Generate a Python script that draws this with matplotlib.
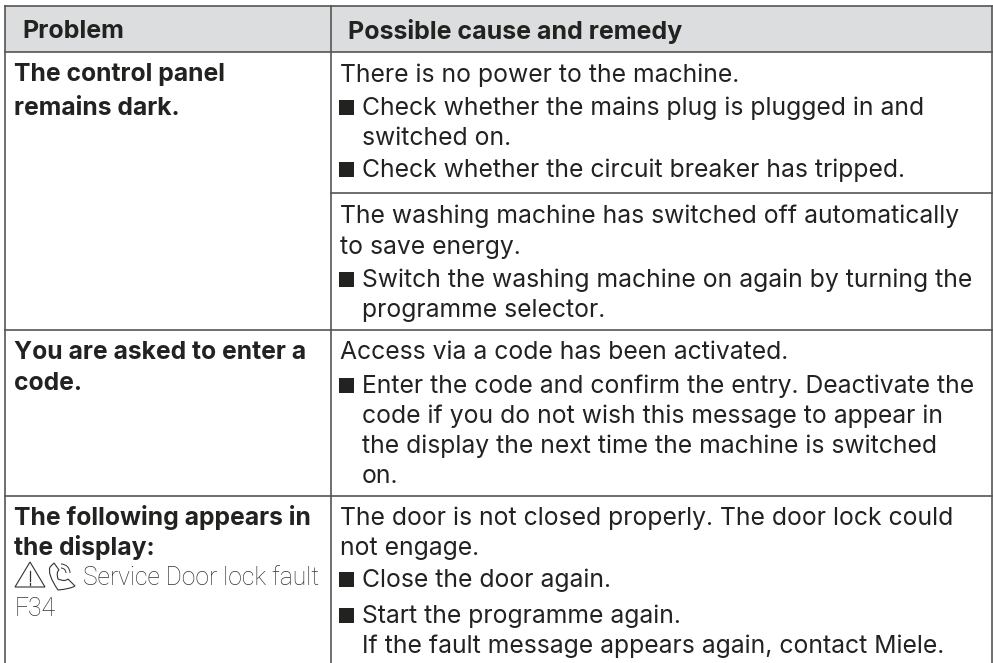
import matplotlib
matplotlib.use("Agg")
import matplotlib.pyplot as plt
from matplotlib.patches import Rectangle, Polygon, Arc, PathPatch
from matplotlib.path import Path

W = 993
H = 663
DARK = "#222221"
LINE = "#555555"
HEAD_BG = "#dcddde"
FONT = "Inter"

headers = ["Problem", "Possible cause and remedy"]

# text and baseline y of each line
left_bold = [
    ("The control panel", 81),
    ("remains dark.", 115),
    ("You are asked to enter a", 359),
    ("code.", 390),
    ("The following appears in", 525),
    ("the display:", 555),
]

# text, indent kind (0 plain, 1 bullet, 2 wrapped), baseline y
right_lines = [
    ("There is no power to the machine.", 0, 82),
    ("Check whether the mains plug is plugged in and", 1, 115),
    ("switched on.", 2, 145),
    ("Check whether the circuit breaker has tripped.", 1, 177),
    ("The washing machine has switched off automatically", 0, 223),
    ("to save energy.", 0, 254),
    ("Switch the washing machine on again by turning the", 1, 287),
    ("programme selector.", 2, 317),
    ("Access via a code has been activated.", 0, 359),
    ("Enter the code and confirm the entry. Deactivate the", 1, 393),
    ("code if you do not wish this message to appear in", 2, 423),
    ("the display the next time the machine is switched", 2, 453),
    ("on.", 2, 483),
    ("The door is not closed properly. The door lock could", 0, 525),
    ("not engage.", 0, 555),
    ("Close the door again.", 1, 587),
    ("Start the programme again.", 1, 623),
    ("If the fault message appears again, contact Miele.", 2, 653),
]

display_text = "Service Door lock fault"
display_code = "F34"

fig = plt.figure(figsize=(W / 100, H / 100), dpi=100)
ax = fig.add_axes([0, 0, 1, 1])
ax.set_xlim(0, W)
ax.set_ylim(H, 0)
ax.axis("off")

# header band
ax.add_patch(Rectangle((5, 6), 987, 46, facecolor=HEAD_BG, edgecolor="none"))

# table lines
lw = 1.2
ax.plot([5, 992], [6, 6], color=LINE, lw=lw)
ax.plot([5, 992], [52, 52], color=LINE, lw=lw)
ax.plot([5, 5], [6, H], color=LINE, lw=lw)
ax.plot([992, 992], [6, H], color=LINE, lw=lw)
ax.plot([330.5, 330.5], [6, H], color=LINE, lw=lw)
ax.plot([330.5, 992], [193, 193], color=LINE, lw=lw)
ax.plot([5, 992], [330, 330], color=LINE, lw=lw)
ax.plot([5, 992], [496, 496], color=LINE, lw=lw)

size = 17.8

ax.text(22, 38.5, headers[0], fontsize=18, fontweight="bold", family=FONT, color=DARK, va="baseline")
ax.text(348, 38.5, headers[1], fontsize=18, fontweight="bold", family=FONT, color=DARK, va="baseline")

for txt, y in left_bold:
    ax.text(14, y, txt, fontsize=size, fontweight="bold", family=FONT, color=DARK, va="baseline")

indent = {0: 340, 1: 362, 2: 362}
for txt, kind, y in right_lines:
    ax.text(indent[kind], y, txt, fontsize=size, family=FONT, color=DARK, va="baseline")
    if kind == 1:
        ax.add_patch(Rectangle((339, y - 15), 15, 15, facecolor=DARK, edgecolor="none"))

# display line, thin font
ax.text(83, 585, display_text, fontsize=17.7, family="Roboto", fontweight="light", color="#333333", va="baseline")
ax.text(15, 616, display_code, fontsize=17.7, family="Roboto", fontweight="light", color="#333333", va="baseline")

# warning triangle
ax.add_patch(Polygon([[15, 587], [30, 562], [45, 587]], closed=True, fill=False, edgecolor="#333333", lw=0.8))
ax.plot([30, 30], [571, 581], color="#333333", lw=0.9)
ax.plot([30, 30], [583, 585], color="#333333", lw=0.9)

# phone handset
phone = Path([(50, 567), (47, 574), (58, 590), (70, 589), (75, 586), (68, 579), (65, 582),
              (58, 579), (56, 572), (59, 570), (54, 563), (50, 567)],
             [Path.MOVETO, Path.CURVE3, Path.CURVE3, Path.CURVE3, Path.LINETO, Path.LINETO,
              Path.CURVE3, Path.CURVE3, Path.CURVE3, Path.LINETO, Path.LINETO, Path.LINETO])
ax.add_patch(PathPatch(phone, fill=False, edgecolor="#333333", lw=0.8))
ax.add_patch(Arc((61, 573), 10, 10, theta1=-90, theta2=0, edgecolor="#333333", lw=0.7))
ax.add_patch(Arc((61, 573), 18, 18, theta1=-90, theta2=0, edgecolor="#333333", lw=0.7))

plt.savefig("out.png", dpi=100)
